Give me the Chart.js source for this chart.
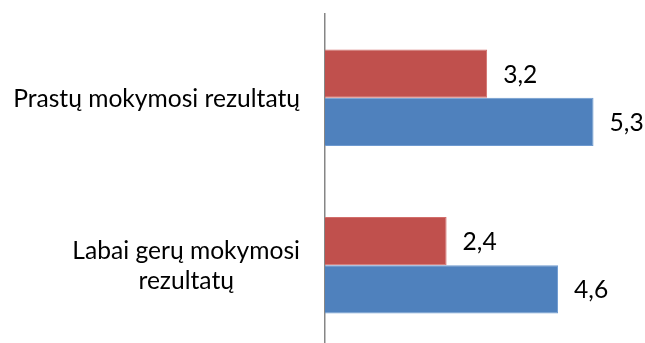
<!DOCTYPE html>
<html>
<head>
<meta charset="utf-8">
<script src="https://cdn.jsdelivr.net/npm/chart.js@4/dist/chart.umd.min.js"></script>
<style>
  html, body { margin: 0; padding: 0; background: #ffffff; overflow: hidden; }
  #wrap { width: 645px; height: 343px; position: relative; overflow: hidden; }
  #chart { display: block; }
</style>
</head>
<body>
<div id="wrap"><canvas id="chart" width="645" height="349"></canvas></div>
<script>
// Category labels (each entry is a list of lines)
const categories = [
  ['Prastų mokymosi rezultatų'],
  ['Labai gerų mokymosi', 'rezultatų']
];
// Series values
const redValues = [3.2, 2.4];
const blueValues = [5.3, 4.6];

const FONT = '24.6px Lato';
const fmt = v => v.toFixed(1).replace('.', ',');

// Draws the value next to the end of every bar
const valueLabels = {
  id: 'valueLabels',
  afterDatasetsDraw(chart) {
    const ctx = chart.ctx;
    ctx.save();
    ctx.font = FONT;
    ctx.fillStyle = '#000000';
    ctx.textAlign = 'left';
    ctx.textBaseline = 'middle';
    chart.data.datasets.forEach((ds, di) => {
      chart.getDatasetMeta(di).data.forEach((el, i) => {
        ctx.fillText(fmt(ds.data[i]), el.x + 16, el.y + 1);
      });
    });
    ctx.restore();
  }
};

// Draws category names left of the axis, lines centred within their block
const categoryLabels = {
  id: 'categoryLabels',
  afterDraw(chart) {
    const ctx = chart.ctx;
    const yScale = chart.scales.y;
    const right = yScale.right - 25;
    const lineHeight = 29.4;
    ctx.save();
    ctx.font = FONT;
    ctx.fillStyle = '#000000';
    ctx.textAlign = 'center';
    ctx.textBaseline = 'middle';
    categories.forEach((lines, i) => {
      const py = yScale.getPixelForTick(i);
      const maxW = Math.max(...lines.map(l => ctx.measureText(l).width));
      const cx = right - maxW / 2;
      const y0 = py + 1 - (lines.length - 1) * lineHeight / 2;
      lines.forEach((l, k) => ctx.fillText(l, cx, y0 + k * lineHeight));
    });
    ctx.restore();
  }
};

new Chart(document.getElementById('chart'), {
  type: 'bar',
  data: {
    labels: categories,
    datasets: [
      {
        data: redValues,
        backgroundColor: '#C0504D',
        borderColor: '#D26E6B',
        borderWidth: 1,
        barPercentage: 1,
        categoryPercentage: 0.575
      },
      {
        data: blueValues,
        backgroundColor: '#4F81BD',
        borderColor: '#6E9AD0',
        borderWidth: 1,
        barPercentage: 1,
        categoryPercentage: 0.575
      }
    ]
  },
  options: {
    indexAxis: 'y',
    responsive: false,
    animation: false,
    layout: { padding: { top: 14, bottom: 0, right: 16, left: 0 } },
    plugins: {
      legend: { display: false },
      tooltip: { enabled: false }
    },
    scales: {
      x: {
        display: false,
        min: 0,
        max: 6
      },
      y: {
        grid: { display: false },
        border: { display: true, color: '#868686', width: 1.5 },
        ticks: { display: false },
        afterFit(scale) { scale.width = 325; }
      }
    }
  },
  plugins: [valueLabels, categoryLabels]
});
</script>
</body>
</html>
